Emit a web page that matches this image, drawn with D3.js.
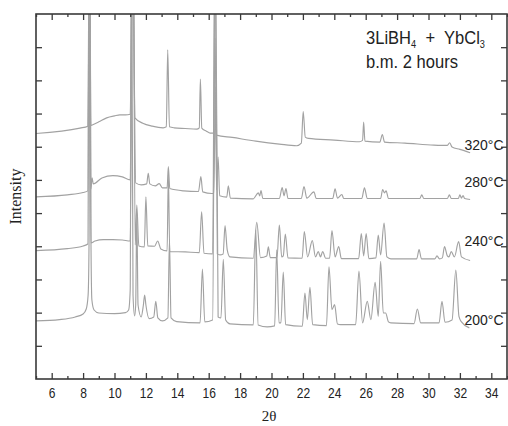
<!DOCTYPE html>
<html><head><meta charset="utf-8">
<script src="https://cdn.jsdelivr.net/npm/d3@7"></script>
<style>html,body{margin:0;padding:0;background:#fff;}svg{display:block;}</style>
</head><body>
<svg id="chart" width="508" height="426"></svg>
<script>
// ---- data (2θ in degrees, intensity in arbitrary units) ----
const xTickValues = [6,8,10,12,14,16,18,20,22,24,26,28,30,32,34];
const xMinorTicks = [5,7,9,11,13,15,17,19,21,23,25,27,29,31,33,35];
const yTickValues = [100,200,300,400,500,600,700,800,900,1000];
const traceLabels = ["320°C","280°C","240°C","200°C"];

const trace320 = [[5.0,740],[7.8,756],[8.3,762],[8.4,1400],[8.5,764],[8.55,765],[9.0,775],[9.5,787],[10.0,793],[10.35,796],[10.7,796],[11.0,798],[11.15,1400],[11.3,787],[11.8,771],[12.4,762],[13.1,757],[13.3,760],[13.39,992],[13.5,760],[13.8,757],[14.5,755],[15.24,753],[15.4,757],[15.47,904],[15.56,756],[15.85,747],[16.1,741],[16.32,741],[16.4,1028],[16.5,735],[17.5,728],[19.0,717],[20.5,708],[21.6,703],[21.9,711],[22.02,806],[22.15,729],[22.35,725],[24.0,720],[25.6,715],[25.8,719],[25.87,774],[25.95,717],[26.9,714],[27.06,737],[27.2,714],[28.5,711],[30.35,705],[31.2,704],[31.35,712],[31.5,699],[32.0,692],[32.65,682]];

const trace280 = [[5.0,549],[7.0,555],[8.0,562],[8.3,567],[8.4,1400],[8.5,573],[8.57,606],[8.65,588],[9.2,606],[9.9,613],[10.5,609],[11.0,600],[11.15,1400],[11.35,591],[11.7,585],[12.05,588],[12.15,620],[12.25,588],[12.6,582],[12.85,589],[13.05,576],[13.35,576],[13.43,640],[13.52,574],[14.4,567],[15.35,565],[15.5,610],[15.62,564],[16.2,559],[16.33,559],[16.42,880],[16.5,570],[16.6,669],[16.7,552],[17.15,548],[17.25,582],[17.38,545],[18.84,543],[19.16,561],[19.25,552],[19.33,568],[19.45,544],[20.5,544],[20.68,577],[20.8,552],[20.92,574],[21.05,544],[21.9,544],[22.07,580],[22.25,545],[22.7,564],[22.85,544],[23.9,544],[24.05,573],[24.2,545],[24.48,556],[24.6,544],[25.75,544],[25.92,576],[26.1,544],[26.95,544],[27.08,571],[27.2,561],[27.3,567],[27.45,544],[29.45,544],[29.57,555],[29.7,544],[31.2,544],[31.33,555],[31.45,544],[31.9,544],[32.0,555],[32.1,545],[32.2,553],[32.3,544],[32.65,541]];

const trace240 = [[5.0,387],[7.0,393],[8.0,401],[8.3,407],[8.4,1400],[8.5,410],[8.76,416],[9.3,420],[9.9,420],[10.5,419],[11.0,416],[11.18,1400],[11.32,404],[11.42,524],[11.55,401],[11.9,398],[12.0,549],[12.12,401],[12.55,400],[12.75,416],[12.95,392],[13.35,386],[13.43,615],[13.52,384],[14.5,383],[15.4,381],[15.55,504],[15.7,379],[16.25,377],[16.4,1400],[16.55,377],[16.72,374],[16.92,377],[17.04,462],[17.18,389],[17.35,368],[18.84,364],[19.06,472],[19.3,366],[19.7,371],[19.8,398],[19.92,366],[20.35,366],[20.5,464],[20.65,368],[20.75,371],[20.88,437],[21.05,365],[21.95,364],[22.09,444],[22.3,368],[22.6,417],[22.8,368],[22.98,384],[23.12,368],[23.26,384],[23.45,364],[23.7,364],[23.85,447],[24.05,368],[24.28,399],[24.45,363],[25.55,363],[25.72,438],[25.87,371],[26.03,438],[26.2,363],[26.65,365],[26.8,434],[26.95,374],[27.17,470],[27.35,368],[27.6,362],[29.25,362],[29.4,390],[29.55,362],[30.4,362],[30.54,371],[30.7,362],[30.88,365],[31.02,399],[31.2,371],[31.3,368],[31.45,384],[31.65,368],[31.92,414],[32.1,368],[32.65,357]];

const trace200 = [[5.0,175],[6.5,179],[7.5,187],[8.0,196],[8.2,211],[8.32,253],[8.38,419],[8.44,1400],[8.5,419],[8.56,238],[8.7,208],[9.0,199],[10.0,197],[10.7,200],[10.9,208],[11.0,268],[11.08,1400],[11.18,253],[11.28,190],[11.35,223],[11.42,500],[11.5,223],[11.7,187],[11.84,223],[11.92,253],[12.0,223],[12.2,182],[12.5,187],[12.63,234],[12.76,184],[13.05,175],[13.4,184],[13.5,419],[13.6,184],[13.96,173],[15.45,169],[15.6,331],[15.75,172],[16.25,178],[16.42,1400],[16.6,187],[16.78,184],[16.93,361],[17.08,178],[17.36,166],[18.84,163],[19.0,449],[19.15,163],[19.73,157],[20.2,160],[20.33,389],[20.48,169],[20.6,169],[20.75,322],[20.9,164],[21.96,159],[22.13,259],[22.28,179],[22.45,276],[22.62,164],[23.5,161],[23.66,338],[23.85,209],[24.02,224],[24.2,166],[24.4,164],[25.36,164],[25.57,325],[25.8,169],[26.1,234],[26.33,179],[26.6,291],[26.8,189],[26.95,355],[27.12,199],[27.27,199],[27.45,172],[27.6,169],[29.08,167],[29.29,211],[29.5,169],[30.67,169],[30.86,234],[31.05,171],[31.5,178],[31.74,328],[31.94,189],[32.1,172],[32.6,154]];

const traces = [trace320, trace280, trace240, trace200];

// ---- layout ----
const W = 508, H = 426;
const m = {left: 36, top: 14, right: 1, bottom: 47};
const labelY = [690, 579, 401, 163];   // label anchor heights (layout)
const svg = d3.select("#chart");
const x = d3.scaleLinear().domain([5, 35]).range([m.left, W - m.right]);
const y = d3.scaleLinear().domain([0, 1100]).range([H - m.bottom, m.top]);

svg.append("defs").append("clipPath").attr("id","clip")
  .append("rect").attr("x", m.left).attr("y", m.top)
  .attr("width", x(35) - x(5)).attr("height", y(0) - y(1100));

const line = d3.line().x(d => x(d[0])).y(d => y(d[1])).curve(d3.curveMonotoneX);
const g = svg.append("g").attr("clip-path","url(#clip)");
traces.forEach(t => {
  g.append("path").datum(t).attr("d", line)
    .attr("fill","none").attr("stroke","#a2a2a2").attr("stroke-width",1.15)
    .attr("stroke-linejoin","round");
});

// ---- axes ----
const axisColor = "#3a3a3a";
function styleAxis(sel){
  sel.select(".domain").remove();
  sel.selectAll(".tick line").attr("stroke", axisColor).attr("stroke-width", 1.3);
}
const bottom = svg.append("g").attr("transform",`translate(0,${y(0)})`)
  .call(d3.axisBottom(x).tickValues(xTickValues).tickSizeInner(-6).tickSizeOuter(0).tickPadding(9).tickFormat(d3.format("d")));
styleAxis(bottom);
bottom.selectAll(".tick text").attr("font-family","Liberation Sans, Arial, sans-serif").attr("font-size",14).attr("fill","#222")
  .attr("transform","scale(0.86,1)");
svg.append("g").attr("transform",`translate(0,${y(0)})`)
  .call(d3.axisBottom(x).tickValues(xMinorTicks).tickSizeInner(-3).tickSizeOuter(0).tickFormat(""))
  .call(styleAxis);
svg.append("g").attr("transform",`translate(0,${y(1100)})`)
  .call(d3.axisTop(x).tickValues(xTickValues).tickSizeInner(-6).tickSizeOuter(0).tickFormat(""))
  .call(styleAxis);
svg.append("g").attr("transform",`translate(0,${y(1100)})`)
  .call(d3.axisTop(x).tickValues(xMinorTicks).tickSizeInner(-3).tickSizeOuter(0).tickFormat(""))
  .call(styleAxis);
svg.append("g").attr("transform",`translate(${x(5)},0)`)
  .call(d3.axisLeft(y).tickValues(yTickValues).tickSizeInner(-6).tickSizeOuter(0).tickFormat(""))
  .call(styleAxis);
svg.append("g").attr("transform",`translate(${x(35)},0)`)
  .call(d3.axisRight(y).tickValues(yTickValues).tickSizeInner(-6).tickSizeOuter(0).tickFormat(""))
  .call(styleAxis);

svg.append("rect").attr("x", x(5)).attr("y", y(1100))
  .attr("width", x(35) - x(5)).attr("height", y(0) - y(1100))
  .attr("fill","none").attr("stroke", axisColor).attr("stroke-width", 1.6);

// ---- trace labels ----
traceLabels.forEach((lab, i) => {
  svg.append("text")
    .attr("x", 464.5).attr("y", y(labelY[i]))
    .attr("font-family","Liberation Sans, Arial, sans-serif").attr("font-size",14).attr("fill","#222")
    .text(lab);
});

// ---- title annotation ----
const ann = svg.append("text")
  .attr("transform", `translate(366,44) scale(0.92,1)`)
  .attr("font-family","Liberation Sans, Arial, sans-serif").attr("font-size",18).attr("fill","#222");
ann.append("tspan").text("3LiBH");
ann.append("tspan").attr("font-size",10).attr("dy",4).text("4");
ann.append("tspan").attr("dy",-4).text("\u00a0 +\u00a0 YbCl");
ann.append("tspan").attr("font-size",10).attr("dy",4).text("3");
svg.append("text")
  .attr("transform", `translate(366,68) scale(0.92,1)`)
  .attr("font-family","Liberation Sans, Arial, sans-serif").attr("font-size",18).attr("fill","#222")
  .text("b.m. 2 hours");

// ---- axis titles ----
svg.append("text")
  .attr("transform", `translate(21,${(y(0)+y(1100))/2}) rotate(-90)`)
  .attr("text-anchor","middle")
  .attr("font-family","Liberation Serif, Times New Roman, serif").attr("font-size",16).attr("fill","#222")
  .text("Intensity");
svg.append("text")
  .attr("x", 269).attr("y", 421)
  .attr("text-anchor","middle")
  .attr("font-family","Liberation Serif, Times New Roman, serif").attr("font-size",15).attr("fill","#222")
  .text("2θ");
</script>
</body></html>
